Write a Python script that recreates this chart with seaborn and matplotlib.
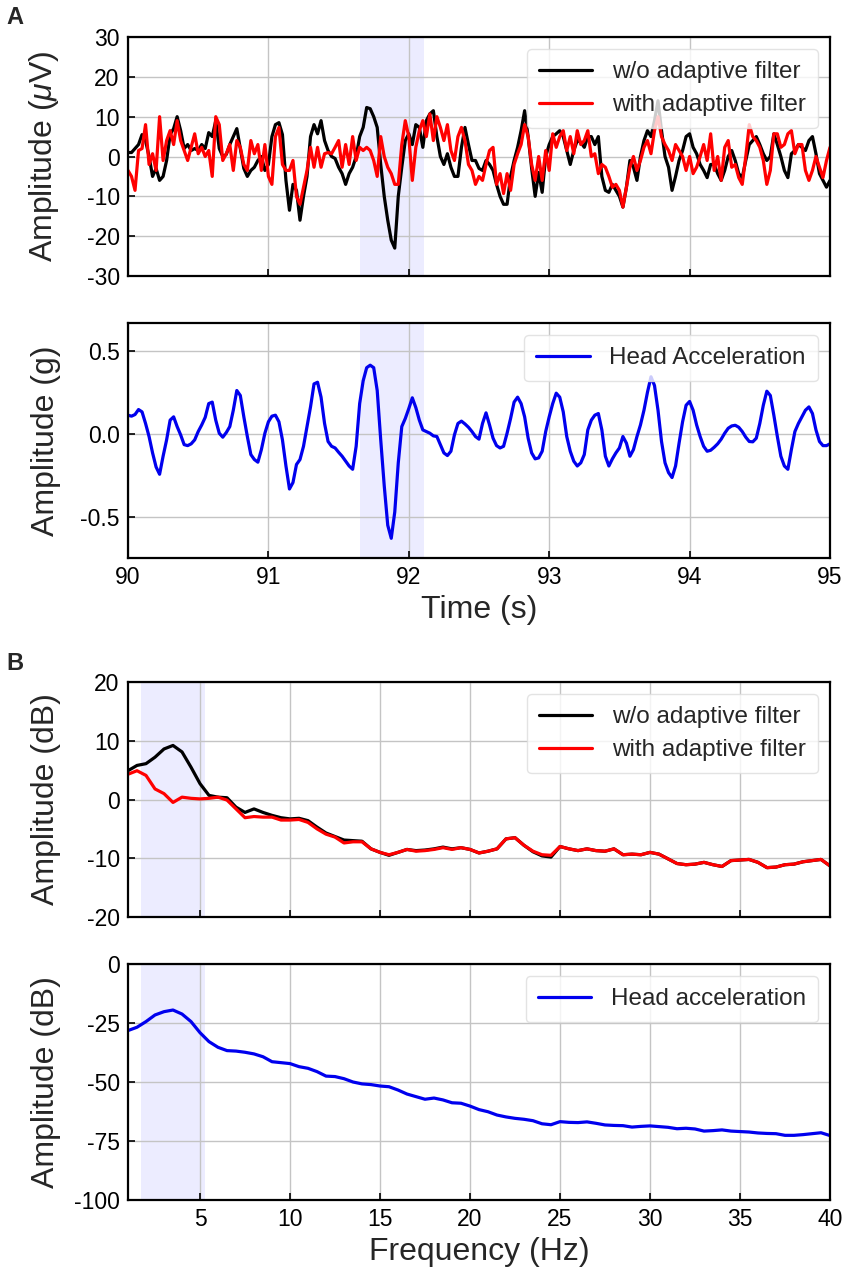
import numpy as np
import pandas as pd
import matplotlib
matplotlib.use("Agg")
import matplotlib.pyplot as plt
import seaborn as sns

# ---------------- data ----------------
time_s = 90 + 0.025 * np.arange(201)

eeg_without = [1, 1, 2, 3, 5.5, 4, 0, -5, -3, -6, -5, -1, 5.5, 7, 10, 6.5, 2, 3, 1.5, 2,
               1.5, 3, 2, 6, 5, 9, 2, 0, 0.5, 3, 5, 7, 2, -3, -5, -3.5, -2.7, -1, 0, -3.5,
               -2, 5, 8, 8.5, 5.5, -6, -13.5, -7, -8.5, -16, -10, -5, 5, 8, 5.7, 9, 4, 1.5, 0, -0.5,
               -2.7, -4.3, -7, -4.3, -2.7, 0, 5, 7.3, 12.3, 12, 10, 7.3, -2, -10, -16, -21, -23, -10, -2.7, 4,
               5.7, 3, 8, 7.3, 2.3, 9, 10.7, 11.5, 5, 0, -2, 0.7, -2.7, -5, -5, 2.3, 7.3, 3, -1, -1,
               -3, -3.5, -1, -2, -3.5, -7, -10, -12, -12, -5, -1, 2.3, 6.5, 11.5, 5, -3, -10, -4, -9, 0,
               3, 5, 5.7, 6.5, 5, 1.5, -2, 1.5, 4, 3.6, 2.3, 5, 5, 3, 5, -5, -8.5, -9, -7, -8.5,
               -10, -12.7, -7.7, -1, -2.7, -6, 0, 4, 6.5, 5, 9, 14, 6.5, 0, -2.7, -8.5, -5, -1, 1.5, 5,
               5.7, 2.3, 0.7, -2, -3.5, -5.3, -2, -2, -4.3, -6, -3.5, 0, 1.5, -1, -4.3, -5.3, -1, 3, 4, 5,
               3, 0.7, -1, 0, 5.7, 3, 0, -3.5, -5.3, 0.7, 1.5, 3, 2.3, 1.5, 4, 5, 0.7, -4.3, -6, -7.7,
               -6]

eeg_with = [-3.5, -5, -8.5, 1.5, 2, 8, -2, 0.7, -3.5, 10, -1, 4, 6.5, 3, 9, 4, 1.5, -1, 2.3, 5.7,
            0.7, 2.3, 0, 1.5, -5, 10, 8, -1, 0.7, 3, -3.5, 4, 2.3, -2, -3.5, 4, 0.7, 3, -3.5, 3,
            -5, -7, 5, 7.3, -2, -3.5, -3.5, -1, -10, -12, -7.7, -3.5, 2.3, -2.7, 2.3, -2.7, 0.7, 1, 0.7, 2.3,
            4, -2.7, 3, -2, 5, -1, 2.3, 1.5, 2.3, 1.5, -1, -5, 5, 0, -2.7, -4.3, -7, -7, 3, 9,
            5, -6, 2.3, 6.5, 9, 5, 10.7, 4, 10, 7.3, 4, 8, 1.5, -1, 5, 7.3, 4, -2, -3.5, -7,
            -5, -6, -2, 1.5, 2.3, -7, -4.3, -9.3, -4.3, -8.5, -2, 0.7, 3, 8, 5, -2, -6, 0, -6, 1.5,
            -3.5, 5.7, 2.3, 5, 6.5, 1.5, 5, 0.7, 6.5, 3, 4, 6.5, 0, 0.7, -4.3, -2, -2.7, -5, -7.7, -7,
            -8.5, -12.7, -7.7, -2.7, 0, -3.5, -1, 2.3, 4, 0.7, 6.5, 10, 5, 3, 1.5, -1, 3, 1.5, 0, -3.5,
            0, -4.3, -2.7, 0, 3, -1, 5.7, -3.5, 0, -6, 2.3, 4, -2.7, -2, -5.3, -7, 0, 8, 5, 4,
            2.3, -1, -7, -3.5, 5.7, 5.7, 2.3, 3, 5.7, 6.5, 0.7, 3, 3, -3.5, -6, -3.5, 0, -2.7, -5.3, -1,
            2.3]

head_acc = [0.113, 0.107, 0.117, 0.147, 0.133, 0.063, -0.016, -0.115, -0.2, -0.244,
            -0.135, -0.036, 0.083, 0.103, 0.044, -0.006, -0.065, -0.071, -0.06, -0.036,
            0.014, 0.054, 0.1, 0.183, 0.192, 0.083, 0.004, -0.02, 0.008, 0.044,
            0.143, 0.262, 0.232, 0.103, -0.016, -0.125, -0.155, -0.171, -0.095, 0.004,
            0.073, 0.107, 0.113, 0.073, -0.036, -0.194, -0.333, -0.294, -0.185, -0.155,
            -0.075, 0.044, 0.163, 0.302, 0.312, 0.222, 0.063, -0.046, -0.075, -0.085,
            -0.111, -0.135, -0.165, -0.194, -0.214, -0.075, 0.183, 0.321, 0.4, 0.415,
            0.4, 0.262, -0.036, -0.313, -0.552, -0.631, -0.472, -0.175, 0.044, 0.093,
            0.153, 0.218, 0.159, 0.083, 0.024, 0.014, 0.004, -0.012, -0.016, -0.065,
            -0.115, -0.131, -0.105, -0.006, 0.063, 0.077, 0.06, 0.04, 0.014, -0.016,
            -0.032, 0.063, 0.127, 0.054, -0.026, -0.071, -0.085, -0.075, 0.004, 0.093,
            0.192, 0.222, 0.183, 0.103, -0.026, -0.115, -0.151, -0.145, -0.105, 0.014,
            0.103, 0.183, 0.246, 0.222, 0.133, -0.016, -0.105, -0.165, -0.194, -0.175,
            -0.125, 0.024, 0.083, 0.113, 0.123, 0.024, -0.135, -0.194, -0.151, -0.115,
            -0.085, -0.016, -0.056, -0.135, -0.095, -0.016, 0.054, 0.143, 0.252, 0.345,
            0.292, 0.143, -0.046, -0.175, -0.234, -0.264, -0.194, -0.056, 0.073, 0.173,
            0.196, 0.143, 0.054, -0.016, -0.075, -0.105, -0.099, -0.081, -0.06, -0.032,
            0.004, 0.034, 0.048, 0.052, 0.04, 0.014, -0.02, -0.046, -0.048, -0.026,
            0.063, 0.173, 0.258, 0.232, 0.113, -0.016, -0.135, -0.194, -0.214, -0.095,
            0.014, 0.063, 0.103, 0.143, 0.163, 0.123, 0.024, -0.046, -0.071, -0.071,
            -0.06]

freq_hz = np.arange(1, 40.01, 0.5)

psd_without = [4.9, 5.8, 6.1, 7.2, 8.6, 9.2, 8.1, 5.5, 2.7, 0.7, 0.4, 0.3, -1.3, -2.2, -1.6, -2.2,
               -2.7, -3.1, -3.3, -3.2, -3.6, -4.7, -5.7, -6.3, -6.9, -7.0, -7.1, -8.4, -9.0, -9.5,
               -9.0, -8.5, -8.7, -8.6, -8.4, -8.1, -8.4, -8.2, -8.5,
               -9.1, -8.8, -8.4, -6.7, -6.5, -7.8, -8.9, -9.6, -9.8, -8.0, -8.4, -8.7, -8.4, -8.7,
               -8.8, -8.4, -9.4, -9.3, -9.4, -9.0, -9.3, -10.1, -10.9, -11.1, -11.0, -10.7, -11.1,
               -11.4, -10.4, -10.3, -10.2, -10.7, -11.6, -11.5, -11.1, -11.0, -10.6, -10.4, -10.2, -11.3]

psd_with = [4.3, 4.9, 4.1, 1.8, 1.0, -0.5, 0.4, 0.2, 0.1, 0.2, 0.4, -0.1, -1.6, -3.1, -2.9, -3.0,
            -3.0, -3.5, -3.5, -3.4, -3.9, -5.0, -5.9, -6.4, -7.4, -7.2, -7.2, -8.4, -9.0, -9.4,
            -9.0, -8.5, -8.8, -8.7, -8.5, -8.2, -8.5, -8.2, -8.5,
            -9.1, -8.8, -8.4, -6.7, -6.5, -7.8, -8.8, -9.4, -9.5, -8.0, -8.4, -8.7, -8.4, -8.7,
            -8.8, -8.4, -9.4, -9.3, -9.4, -9.0, -9.3, -10.1, -10.9, -11.1, -11.0, -10.7, -11.1,
            -11.4, -10.4, -10.3, -10.2, -10.7, -11.6, -11.5, -11.1, -11.0, -10.6, -10.4, -10.2, -11.3]

psd_head = [-28.2, -26.8, -24.4, -21.6, -20.2, -19.5, -21.2, -24.4, -29.1, -32.9, -35.3, -36.7,
            -36.9, -37.4, -38.1, -39.3, -41.4, -41.8, -42.2, -43.5, -44.2, -45.6, -47.5, -47.7,
            -48.6, -50.0, -50.8, -51.1, -51.7, -52.0, -53.4, -55.1, -56.2, -57.3, -56.8, -57.6,
            -58.8, -59.0, -60.2,
            -61.7, -62.6, -64.0, -64.8, -65.4, -65.8, -66.4, -67.7, -68.1, -66.8, -67.1, -67.2,
            -66.9, -67.5, -68.2, -68.4, -68.5, -69.1, -68.8, -68.6, -68.9, -69.2, -69.8, -69.6,
            -69.9, -70.8, -70.6, -70.3, -70.8, -71.0, -71.2, -71.6, -71.8, -71.9, -72.6, -72.6,
            -72.3, -71.9, -71.5, -72.7]

time_window = (91.65, 92.11)
freq_window = (1.7, 5.3)

# ---------------- style ----------------
sns.set_theme(style="whitegrid")
plt.rcParams["font.family"] = ["Liberation Sans", "DejaVu Sans"]
plt.rcParams["mathtext.fontset"] = "custom"
plt.rcParams["mathtext.rm"] = "Liberation Sans"
plt.rcParams["mathtext.it"] = "Liberation Sans:italic"
plt.rcParams["axes.unicode_minus"] = False

W, H = 850, 1272
fig = plt.figure(figsize=(W / 100, H / 100), dpi=100)

def axes_px(top, bottom, left=128, right=830):
    return fig.add_axes([left / W, 1 - bottom / H, (right - left) / W, (bottom - top) / H])

ax1 = axes_px(37, 276)
ax2 = axes_px(323, 558)
ax3 = axes_px(682, 917)
ax4 = axes_px(964, 1200)

lw = 2.3
tick_fs = 16.5
label_fs = 23
leg_fs = 17.5

sns.lineplot(x=time_s, y=eeg_without, ax=ax1, color="black", lw=lw, label="w/o adaptive filter", sort=False)
sns.lineplot(x=time_s, y=eeg_with, ax=ax1, color="#ff0000", lw=lw, label="with adaptive filter", sort=False)
sns.lineplot(x=time_s, y=head_acc, ax=ax2, color="#0000ee", lw=lw, label="Head Acceleration", sort=False)
sns.lineplot(x=freq_hz, y=psd_without, ax=ax3, color="black", lw=lw, label="w/o adaptive filter", sort=False)
sns.lineplot(x=freq_hz, y=psd_with, ax=ax3, color="#ff0000", lw=lw, label="with adaptive filter", sort=False)
sns.lineplot(x=freq_hz, y=psd_head, ax=ax4, color="#0000ee", lw=lw, label="Head acceleration", sort=False)

for ax in (ax1, ax2):
    ax.axvspan(*time_window, color="#0000ff", alpha=0.075, lw=0, zorder=0)
    ax.set_xlim(90, 95)
    ax.set_xticks([90, 91, 92, 93, 94, 95])
for ax in (ax3, ax4):
    ax.axvspan(*freq_window, color="#0000ff", alpha=0.075, lw=0, zorder=0)
    ax.set_xlim(1, 40)
    ax.set_xticks([5, 10, 15, 20, 25, 30, 35, 40])

ax1.set_ylim(-30, 30)
ax1.set_yticks([-30, -20, -10, 0, 10, 20, 30])
ax2.set_ylim(-0.75, 0.67)
ax2.set_yticks([-0.5, 0.0, 0.5])
ax2.set_yticklabels(["-0.5", "0.0", "0.5"])
ax3.set_ylim(-20, 20)
ax3.set_yticks([-20, -10, 0, 10, 20])
ax4.set_ylim(-100, 0)
ax4.set_yticks([-100, -75, -50, -25, 0])

ax1.set_xticklabels([])
ax3.set_xticklabels([])

ax1.set_ylabel(r"Amplitude ($\mu$V)", fontsize=label_fs)
ax2.set_ylabel("Amplitude (g)", fontsize=label_fs)
ax3.set_ylabel("Amplitude (dB)", fontsize=label_fs)
ax4.set_ylabel("Amplitude (dB)", fontsize=label_fs)
ax2.set_xlabel("Time (s)", fontsize=label_fs, labelpad=4)
ax4.set_xlabel("Frequency (Hz)", fontsize=label_fs, labelpad=4)
ax1.set_xlabel("")
ax3.set_xlabel("")

for ax in (ax1, ax2, ax3, ax4):
    ax.yaxis.set_label_coords((61 - 128) / 702, 0.5)
    ax.grid(True, color="#c4c4c4", lw=1.0)
    ax.set_axisbelow(True)
    for s in ax.spines.values():
        s.set_color("black")
        s.set_linewidth(1.6)
        s.set_visible(True)
    ax.tick_params(axis="both", direction="in", length=5, width=1.2, color="black",
                   labelsize=tick_fs, labelcolor="black", bottom=True, left=True, pad=6)
    ax.set_facecolor("white")
    leg = ax.legend(loc="upper right", fontsize=leg_fs, handlelength=2.2, handletextpad=0.8,
                    frameon=True, fancybox=True, framealpha=0.8, edgecolor="#dddddd",
                    borderaxespad=0.5, borderpad=0.5, labelspacing=0.45)
    for h in leg.get_lines():
        h.set_linewidth(lw)

fig.text(6 / W, 1 - 6 / H, "A", fontsize=17, fontweight="bold", va="top", ha="left")
fig.text(6 / W, 1 - 652 / H, "B", fontsize=17, fontweight="bold", va="top", ha="left")

fig.savefig("out.png", dpi=100, facecolor="white")
